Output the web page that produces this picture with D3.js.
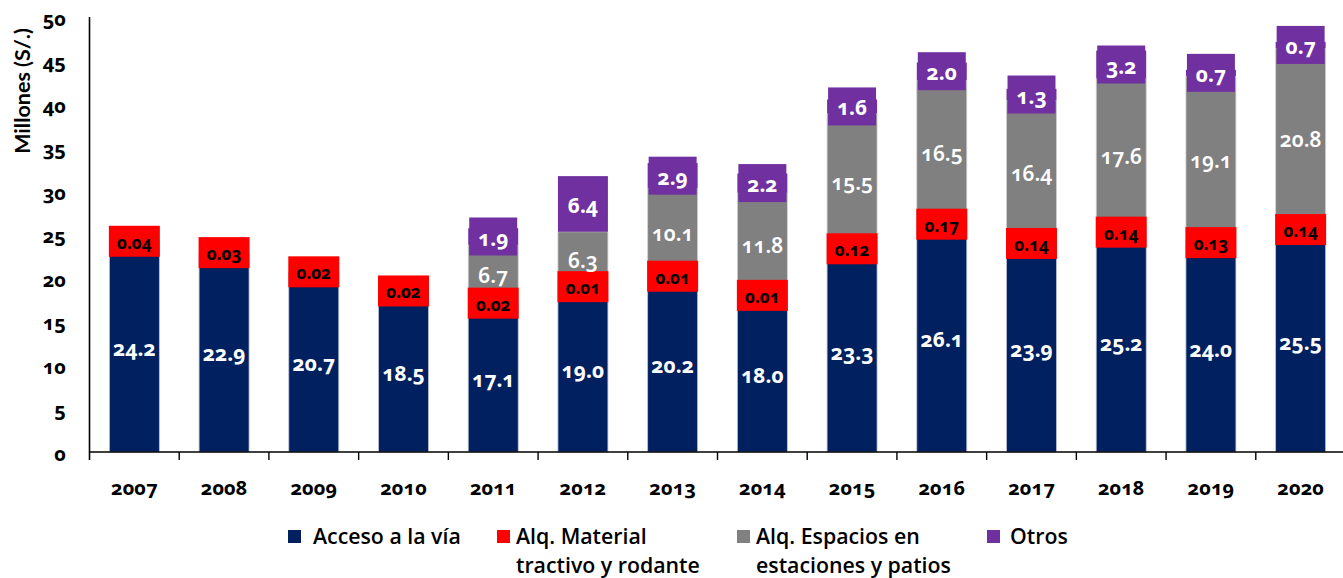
<!DOCTYPE html>
<html>
<head>
<meta charset="utf-8">
<script src="https://cdn.jsdelivr.net/npm/d3@7"></script>
<style>
  html, body { margin: 0; padding: 0; background: #ffffff; }
  svg { display: block; }
  .num { font-family: "Noto Sans", Lato, sans-serif; font-variant-numeric: oldstyle-nums; font-feature-settings: "onum" 1; }
  .ttl { font-family: Lato, "Open Sans", sans-serif; }
  .leg { font-family: "Open Sans", "Noto Sans", sans-serif; font-weight: 600; }
</style>
</head>
<body>
<svg id="chart" width="1343" height="578"></svg>
<script>
// ---- data ----
const years = ["2007","2008","2009","2010","2011","2012","2013","2014","2015","2016","2017","2018","2019","2020"];
const acceso   = [24.2, 22.9, 20.7, 18.5, 17.1, 19.0, 20.2, 18.0, 23.3, 26.1, 23.9, 25.2, 24.0, 25.5];
const material = [0.04, 0.03, 0.02, 0.02, 0.02, 0.01, 0.01, 0.01, 0.12, 0.17, 0.14, 0.14, 0.13, 0.14];
const espacios = [null, null, null, null, 6.7, 6.3, 10.1, 11.8, 15.5, 16.5, 16.4, 17.6, 19.1, 20.8];
const otros    = [null, null, null, null, 1.9, 6.4, 2.9, 2.2, 1.6, 2.0, 1.3, 3.2, 0.7, 0.7];
const yTicks   = [0, 5, 10, 15, 20, 25, 30, 35, 40, 45, 50];
const seriesNames = ["Acceso a la vía", "Alq. Material\ntractivo y rodante", "Alq. Espacios en\nestaciones y patios", "Otros"];
const seriesKeys  = ["acceso", "material", "espacios", "otros"];
const colors = { acceso: "#002060", material: "#ff0000", espacios: "#808080", otros: "#7030a0" };
const labelColors = { acceso: "#ffffff", material: "#000000", espacios: "#ffffff", otros: "#ffffff" };

const rows = years.map((y, i) => ({
  year: y,
  acceso: acceso[i],
  material: material[i],
  espacios: espacios[i] || 0,
  otros: otros[i] || 0,
  has: { acceso: true, material: true, espacios: espacios[i] != null, otros: otros[i] != null }
}));

// ---- layout ----
const svg = d3.select("#chart");
const x = d3.scaleBand().domain(years).range([89.5, 1345.5]).padding(0);
const y = d3.scaleLinear().domain([0, 50]).range([452, 17]);
const barW = x.bandwidth() * 0.557;
const barX = d => x(d) + (x.bandwidth() - barW) / 2;

const stack = d3.stack().keys(seriesKeys)(rows);

// bars
const g = svg.append("g");
stack.forEach(layer => {
  const key = layer.key;
  g.selectAll(null).data(layer.filter(d => d.data.has[key] && d[1] > d[0]))
    .join("rect")
    .attr("x", d => barX(d.data.year))
    .attr("width", barW)
    .attr("y", d => y(d[1]))
    .attr("height", d => y(d[0]) - y(d[1]))
    .attr("fill", colors[key])
    .attr("stroke", key === "acceso" ? "#b9c0d4" : (key === "espacios" ? "#d0d0d0" : "none"))
    .attr("stroke-width", 0.8);
});

// label boxes for red and purple segments
const boxSpec = { material: { h: 31, extra: 1 }, otros: { h: 38, extra: -2 } };
["material", "otros"].forEach(key => {
  const layer = stack.find(l => l.key === key);
  const spec = boxSpec[key];
  g.selectAll(null).data(layer.filter(d => d.data.has[key]))
    .join("rect")
    .attr("x", d => barX(d.data.year) - spec.extra / 2)
    .attr("width", barW + spec.extra)
    .attr("y", d => y((d[0] + d[1]) / 2) - spec.h / 2)
    .attr("height", spec.h)
    .attr("fill", colors[key]);
});

// data labels
const fmt = { acceso: d3.format(".1f"), material: d3.format(".2f"), espacios: d3.format(".1f"), otros: d3.format(".1f") };
const fsize = { acceso: 21, material: 17, espacios: 21, otros: 21 };
const fweight = { acceso: 700, material: 700, espacios: 600, otros: 700 };
stack.forEach(layer => {
  const key = layer.key;
  g.selectAll(null).data(layer.filter(d => d.data.has[key]))
    .join("text")
    .attr("class", "num")
    .attr("x", d => barX(d.data.year) + barW / 2)
    .attr("y", d => y((d[0] + d[1]) / 2) + 1)
    .attr("text-anchor", "middle")
    .attr("dominant-baseline", "central")
    .attr("font-size", fsize[key])
    .attr("font-weight", fweight[key])
    .attr("fill", labelColors[key])
    .text(d => fmt[key](d.data[key]));
});

// axes
const axisColor = "#000000";
svg.append("line").attr("x1", x.range()[0]).attr("x2", x.range()[1])
  .attr("y1", y(0)).attr("y2", y(0)).attr("stroke", axisColor).attr("stroke-width", 1.6);
svg.append("line").attr("x1", x.range()[0]).attr("x2", x.range()[0])
  .attr("y1", y(50)).attr("y2", y(0) + 8).attr("stroke", axisColor).attr("stroke-width", 1.6);
svg.selectAll(null).data(years.slice(1)).join("line")
  .attr("x1", d => x(d)).attr("x2", d => x(d))
  .attr("y1", y(0)).attr("y2", y(0) + 8)
  .attr("stroke", axisColor).attr("stroke-width", 1.4);

// x labels
svg.selectAll(null).data(years).join("text")
  .attr("class", "num")
  .attr("x", d => x(d) + x.bandwidth() / 2)
  .attr("y", 487)
  .attr("text-anchor", "middle")
  .attr("dominant-baseline", "central")
  .attr("font-size", 20).attr("font-weight", 700).attr("fill", "#000")
  .text(d => d);

// y labels
svg.selectAll(null).data(yTicks).join("text")
  .attr("class", "num")
  .attr("x", 66)
  .attr("y", d => y(d) + 1)
  .attr("text-anchor", "end")
  .attr("dominant-baseline", "central")
  .attr("font-size", 20).attr("font-weight", 700).attr("fill", "#000")
  .text(d => d);

// y title
svg.append("text")
  .attr("class", "ttl")
  .attr("transform", "translate(22,91) rotate(-90)")
  .attr("text-anchor", "middle")
  .attr("dominant-baseline", "central")
  .attr("font-size", 21.5).attr("font-weight", 700).attr("fill", "#000")
  .text("Millones (S/.)");

// legend
const legendX = [288, 497, 737, 987];
const legendTextX = [313, 516, 756, 1010];
const leg = svg.append("g");
seriesKeys.forEach((k, i) => {
  leg.append("rect").attr("x", legendX[i]).attr("y", 530).attr("width", 13).attr("height", 13).attr("fill", colors[k]);
  const t = leg.append("text").attr("class", "leg").attr("x", legendTextX[i]).attr("y", 543.5)
    .attr("font-size", 21.3).attr("fill", "#000");
  seriesNames[i].split("\n").forEach((line, j) => {
    t.append("tspan").attr("x", legendTextX[i]).attr("dy", j === 0 ? 0 : 29.5).text(line);
  });
});
</script>
</body>
</html>
